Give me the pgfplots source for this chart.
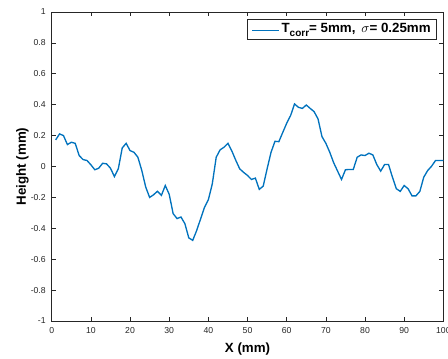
\documentclass[border=0pt]{standalone}
\usepackage{fontspec}
\setmainfont{Liberation Sans}
\usepackage{pgfplots}
\pgfplotsset{compat=1.18}

\definecolor{mlblue}{rgb}{0,0.447,0.741}
\definecolor{axgray}{rgb}{0.15,0.15,0.15}

\begin{document}
\begin{tikzpicture}
\begin{axis}[
  at={(0pt,0pt)}, anchor=south west,
  scale only axis,
  width=293.7pt, height=231.75pt,
  xmin=0, xmax=100, ymin=-1, ymax=1,
  xtick={0,10,...,100},
  ytick={-1,-0.8,-0.6,-0.4,-0.2,0,0.2,0.4,0.6,0.8,1},
  tick align=inside,
  major tick length=3pt,
  axis line style={axgray, line width=0.5pt},
  every tick/.style={axgray, line width=0.5pt},
  ticklabel style={font=\fontsize{6.5}{8}\selectfont, text=axgray},
  /pgf/number format/assume math mode=true,
  xticklabel style={yshift=-1.5pt},
  yticklabel style={xshift=-1pt},
  xlabel={\textbf{X (mm)}},
  ylabel={\textbf{Height (mm)}},
  every axis x label/.style={at={(axis description cs:0.5,0)}, anchor=center, yshift=-21pt, font=\fontsize{10}{12}\selectfont},
  every axis y label/.style={at={(axis description cs:-0.0746,0.5)}, rotate=90, anchor=center, font=\fontsize{10}{12}\selectfont},
  legend style={
    at={(rel axis cs:1,1)}, anchor=north east,
    xshift=-5.25pt, yshift=-5pt,
    draw=axgray, line width=0.5pt,
    font=\fontsize{10}{12}\selectfont,
    inner xsep=2pt, inner ysep=1.5pt,
  },
  legend image code/.code={},
]
\addplot[mlblue, line width=1pt] coordinates {
(1,0.172) (2,0.211) (3,0.200) (4,0.142) (5,0.157) (6,0.150) (7,0.071) (8,0.045) (9,0.039) (10,0.011)
(11,-0.021) (12,-0.011) (13,0.021) (14,0.017) (15,-0.011) (16,-0.065) (17,-0.015) (18,0.120) (19,0.150) (20,0.103)
(21,0.092) (22,0.060) (23,-0.026) (24,-0.133) (25,-0.200) (26,-0.183) (27,-0.160) (28,-0.187) (29,-0.123) (30,-0.180)
(31,-0.305) (32,-0.337) (33,-0.327) (34,-0.370) (35,-0.462) (36,-0.478) (37,-0.415) (38,-0.340) (39,-0.265) (40,-0.215)
(41,-0.112) (42,0.060) (43,0.108) (44,0.125) (45,0.150) (46,0.100) (47,0.040) (48,-0.015) (49,-0.038) (50,-0.058)
(51,-0.084) (52,-0.075) (53,-0.148) (54,-0.127) (55,-0.015) (56,0.092) (57,0.163) (58,0.161) (59,0.221) (60,0.280)
(61,0.330) (62,0.405) (63,0.383) (64,0.376) (65,0.398) (66,0.376) (67,0.355) (68,0.308) (69,0.194) (70,0.150)
(71,0.092) (72,0.024) (73,-0.030) (74,-0.084) (75,-0.021) (76,-0.019) (77,-0.019) (78,0.060) (79,0.075) (80,0.071)
(81,0.086) (82,0.075) (83,0.013) (84,-0.030) (85,0.013) (86,0.013) (87,-0.069) (88,-0.144) (89,-0.161) (90,-0.123)
(91,-0.144) (92,-0.190) (93,-0.190) (94,-0.161) (95,-0.069) (96,-0.026) (97,0.002) (98,0.039) (99,0.039) (100,0.039)
};
% the legend sample is a coloured rule set in front of the entry text
\addlegendentry{{\color{mlblue}\rule[0.3ex]{20pt}{1pt}}\hspace{2pt}\textbf{T\raisebox{-0.45ex}{\fontsize{7.5}{9}\selectfont\textbf{corr}}= 5mm,\, $\sigma$= 0.25mm}}
\end{axis}
\pgfresetboundingbox
\path[use as bounding box] (-38.8pt,-27.75pt) rectangle (297.2pt,240.75pt);
\end{tikzpicture}
\end{document}
